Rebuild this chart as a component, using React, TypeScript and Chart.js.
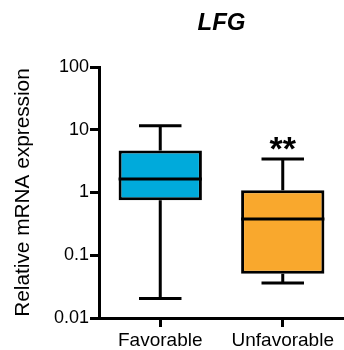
import React, { useEffect, useRef } from "react";
import { Chart, registerables } from "chart.js";

Chart.register(...registerables);

const categories = ["Favorable", "Unfavorable"];
const whiskerMin = [0.0205, 0.036];
const q1 = [0.755, 0.0505];
const median = [1.64, 0.377];
const q3 = [4.69, 1.09];
const whiskerMax = [11.6, 3.41];
const significance = ["", "**"];
const yTicks = [0.01, 0.1, 1, 10, 100];
const yTickLabels = ["0.01", "0.1", "1", "10", "100"];
const boxColors = ["#00AADB", "#F9A82D"];
const chartTitle = "LFG";
const yTitle = "Relative mRNA expression";

const FONT = "'Liberation Sans', Arial, sans-serif";

const boxPlugin = {
  id: "boxWhiskers",
  afterDatasetsDraw(chart: any) {
    const meta = chart.getDatasetMeta(0);
    const y = chart.scales.y;
    const ctx = chart.ctx;
    ctx.save();
    ctx.strokeStyle = "#000";
    ctx.lineWidth = 3;
    ctx.lineCap = "butt";
    meta.data.forEach((el: any, i: number) => {
      const x = el.x;
      const w = el.width;
      const cap = w * 0.51;
      const pMin = y.getPixelForValue(whiskerMin[i]);
      const pMax = y.getPixelForValue(whiskerMax[i]);
      const pQ1 = y.getPixelForValue(q1[i]);
      const pQ3 = y.getPixelForValue(q3[i]);
      const pMed = y.getPixelForValue(median[i]);
      ctx.beginPath();
      ctx.moveTo(x, pQ3);
      ctx.lineTo(x, pMax);
      ctx.moveTo(x - cap / 2, pMax);
      ctx.lineTo(x + cap / 2, pMax);
      ctx.moveTo(x, pQ1);
      ctx.lineTo(x, pMin);
      ctx.moveTo(x - cap / 2, pMin);
      ctx.lineTo(x + cap / 2, pMin);
      ctx.moveTo(x - w / 2, pMed);
      ctx.lineTo(x + w / 2, pMed);
      ctx.stroke();
      if (significance[i]) {
        ctx.fillStyle = "#000";
        ctx.font = `bold 34px ${FONT}`;
        ctx.textAlign = "center";
        ctx.textBaseline = "alphabetic";
        ctx.fillText(significance[i], x, pMax + 1);
      }
    });
    ctx.restore();
  },
};

export default function App() {
  const ref = useRef<HTMLCanvasElement>(null);
  useEffect(() => {
    if (!ref.current) return;
    const chart = new Chart(ref.current, {
      type: "bar",
      data: {
        labels: categories,
        datasets: [
          {
            data: categories.map((_, i) => [q1[i], q3[i]]) as any,
            backgroundColor: boxColors,
            borderColor: "#000",
            borderWidth: 3,
            borderSkipped: false,
            categoryPercentage: 1,
            barPercentage: 0.68,
          },
        ],
      },
      options: {
        animation: false,
        responsive: false,
        devicePixelRatio: 1,
        layout: { padding: { left: 0, top: 0, right: -8, bottom: 0 } },
        plugins: {
          legend: { display: false },
          tooltip: { enabled: false },
          title: {
            display: true,
            text: chartTitle,
            fullSize: false,
            color: "#000",
            font: { family: FONT, size: 24, weight: "bold", style: "italic" },
            padding: { top: 9, bottom: 29.2 },
          },
        },
        scales: {
          x: {
            type: "category",
            offset: true,
            afterFit: (s: any) => {
              s.height = 32;
            },
            grid: {
              display: true,
              offset: false,
              drawOnChartArea: false,
              drawTicks: true,
              tickLength: 9,
              tickWidth: 3,
              tickColor: "#000",
            },
            border: { display: true, color: "#000", width: 3 },
            ticks: {
              color: "#000",
              padding: 2,
              maxRotation: 0,
              font: { family: FONT, size: 19 },
            },
          },
          y: {
            type: "logarithmic",
            min: 0.01,
            max: 100,
            afterFit: (s: any) => {
              s.width = 99;
            },
            afterBuildTicks: (s: any) => {
              s.ticks = yTicks.map((v) => ({ value: v, major: true }));
            },
            grid: {
              display: true,
              drawOnChartArea: false,
              drawTicks: true,
              tickLength: 9,
              tickWidth: 3,
              tickColor: "#000",
            },
            border: { display: true, color: "#000", width: 3 },
            ticks: {
              color: "#000",
              padding: 1,
              autoSkip: false,
              font: { family: FONT, size: 18 },
              callback: (_v: any, i: number) => yTickLabels[i],
            },
            title: {
              display: true,
              text: yTitle,
              color: "#000",
              font: { family: FONT, size: 20.8 },
              padding: { top: 11, bottom: 0 },
            },
          },
        },
      },
      plugins: [boxPlugin],
    });
    return () => chart.destroy();
  }, []);
  return (
    <div style={{ position: "absolute", left: 0, top: 0, width: 344, height: 350 }}>
      <canvas ref={ref} width={344} height={350} />
    </div>
  );
}
